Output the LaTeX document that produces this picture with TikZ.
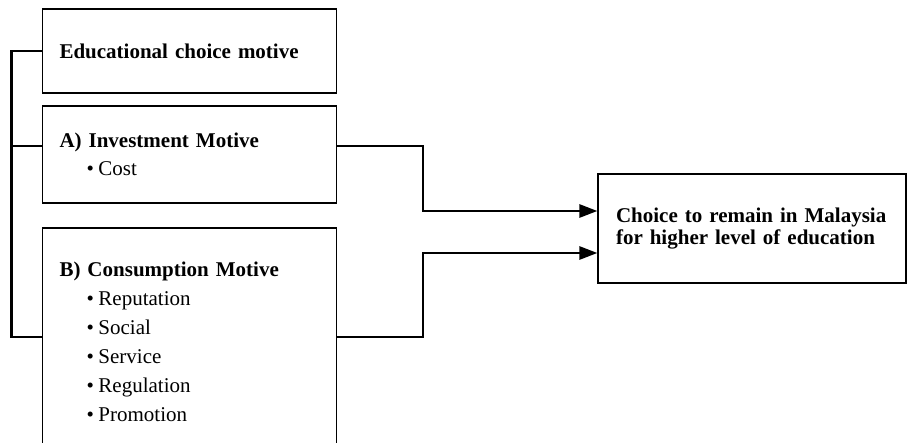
\documentclass[tikz,border=0pt]{standalone}
\usepackage{fontspec}
\setmainfont{Liberation Serif}
\usetikzlibrary{arrows.meta}
\newcommand{\itm}[1]{\hspace*{27pt}\makebox[12pt][l]{\textbullet}#1}

\begin{document}
\begin{tikzpicture}[x=1pt,y=-1pt,
  motive/.style={draw,line width=1.2pt,minimum width=294pt,text width=260pt,inner xsep=17pt,inner ysep=0pt,align=left,font=\fontsize{21}{28.5}\selectfont},
  result/.style={draw,line width=1.2pt,minimum width=308pt,minimum height=109pt,text width=272pt,inner xsep=18pt,inner ysep=0pt,align=left,font=\fontsize{21}{21.5}\selectfont\bfseries},
  link/.style={line width=2.7pt},
  tip/.style={-{Triangle[length=18pt,width=13pt]}}]
\path[use as bounding box,clip] (0,0) rectangle (907,443);

\node[motive,minimum height=84pt] (edu) at (189.5,51) {\textbf{Educational choice motive}};
\node[motive,minimum height=97pt] (inv) at (189.5,154.5) {\textbf{A) Investment Motive}\\ \itm{Cost}};
\node[motive,minimum height=228pt,font=\fontsize{21}{29}\selectfont] (con) at (189.5,342)
  {\textbf{B) Consumption Motive}\\ \itm{Reputation}\\ \itm{Social}\\ \itm{Service}\\ \itm{Regulation}\\ \itm{Promotion}};
\node[result] (goal) at (752,228.5) {Choice to remain in Malaysia\\ for higher level of education};

\coordinate (rail) at (11.5,0);
\coordinate (split) at (423,0);
\coordinate (tapI) at ([yshift=8.5pt]inv.west);
\coordinate (tapC) at ([yshift=5pt]con.west);
\coordinate (outI) at ([yshift=8.5pt]inv.east);
\coordinate (outC) at ([yshift=5pt]con.east);
\coordinate (inI) at ([yshift=17.5pt]goal.west);
\coordinate (inC) at ([yshift=-24.5pt]goal.west);

\draw[link] (edu.west) -| (rail |- tapC) -- (tapC);
\draw[link] (rail |- tapI) -- (tapI);
\draw[link,tip] (outI) -| (split |- inI) -- (inI);
\draw[link,tip] (outC) -| (split |- inC) -- (inC);
\end{tikzpicture}
\end{document}
